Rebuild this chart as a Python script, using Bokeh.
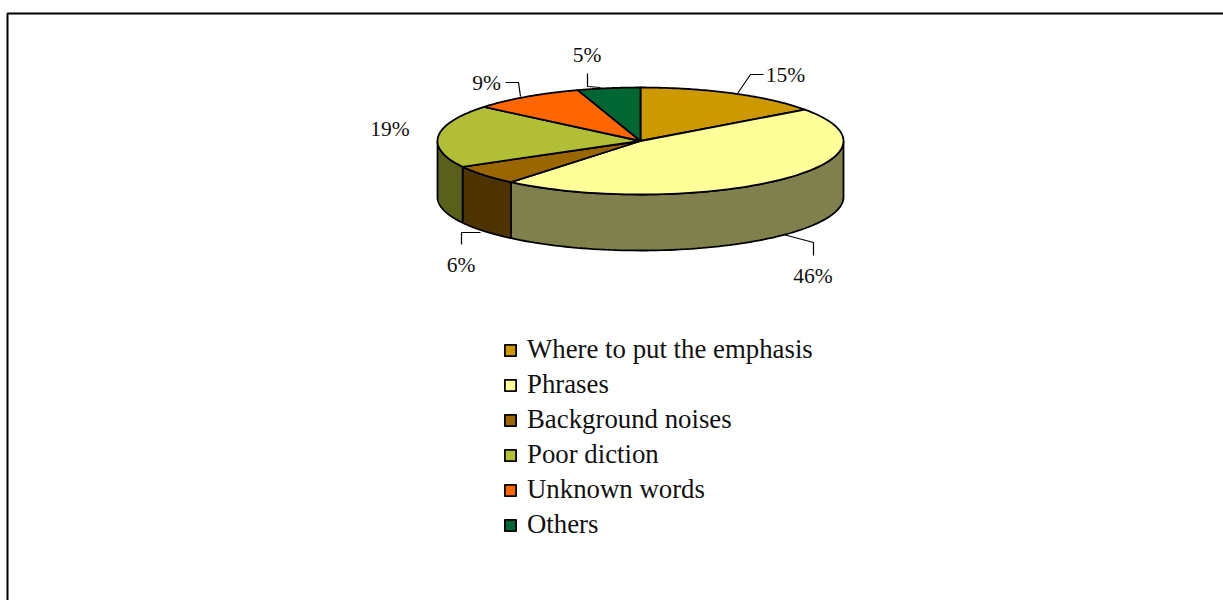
import numpy as np
from bokeh.plotting import figure
from bokeh.models import Range1d, Legend, LegendItem
from bokeh.core.properties import value
from bokeh.embed import file_html
from bokeh.resources import INLINE

categories = ["Where to put the emphasis", "Phrases", "Background noises",
              "Poor diction", "Unknown words", "Others"]
shares = [15, 46, 6, 19, 9, 5]
labels = ["15%", "46%", "6%", "19%", "9%", "5%"]
top_colors = ["#CC9900", "#FFFF99", "#996600", "#B2BF36", "#FF6600", "#006633"]
side_colors = ["#665000", "#80804D", "#4D3300", "#59601B", "#803300", "#003319"]

CX, CY, RX, RY, DEPTH = 640.0, 140.5, 203.0, 53.5, 56.0
FONT = "Liberation Serif"


def rim(a):
    return CX + RX * np.sin(a), CY - RY * np.cos(a)


p = figure(width=1223, height=600, output_backend="svg", toolbar_location=None,
           x_range=Range1d(0, 1223), y_range=Range1d(600, 0),
           min_border=0, outline_line_color=None, background_fill_color="white")
p.axis.visible = False
p.grid.visible = False

# outer frame: only the left and top edges show
p.line([7, 7, 1223], [600, 13, 13], line_color="black", line_width=2)

edges = np.radians(np.concatenate([[0], np.cumsum(shares)]) * 3.6)
LW = 1.8

# side walls of the visible front half
for i in range(len(shares)):
    a0, a1 = max(edges[i], np.pi / 2), min(edges[i + 1], 3 * np.pi / 2)
    if a1 <= a0:
        continue
    t = np.linspace(a0, a1, 80)
    x, y = rim(t)
    p.patch(np.r_[x, x[::-1]], np.r_[y, y[::-1] + DEPTH],
            fill_color=side_colors[i], line_color="black", line_width=LW)

# top face
items = []
for i, name in enumerate(categories):
    t = np.linspace(edges[i], edges[i + 1], 80)
    x, y = rim(t)
    r = p.patch(np.r_[CX, x], np.r_[CY, y], fill_color=top_colors[i],
                line_color="black", line_width=LW, line_join="round")
    items.append(LegendItem(label=name, renderers=[r]))

# leader lines
leader_x = [[737, 750, 763], [783, 813, 813], [480, 461, 461],
            [520, 518, 505], [600, 587, 587]]
leader_y = [[93, 74, 74], [234, 242, 255], [232, 232, 244],
            [96, 82, 82], [87, 86, 73]]
p.multi_line(leader_x, leader_y, line_color="black", line_width=1.2)

# data labels
label_x = [785, 812.5, 460.5, 389.5, 486, 586.5]
label_y = [74, 275, 264, 128, 82, 54]
p.text(x=label_x, y=label_y, text=labels, text_font=value(FONT),
       text_font_size="21.5px", text_align="center", text_baseline="middle",
       text_color="#111111")

legend = Legend(items=items, location=(503, 60), orientation="vertical",
                glyph_width=14, glyph_height=14, label_standoff=10,
                label_height=28, spacing=4, padding=0, margin=0,
                border_line_color=None, background_fill_alpha=0,
                label_text_font=FONT, label_text_font_size="26.8px",
                label_text_color="#111111", label_text_baseline="middle")
p.add_layout(legend, "center")

open("out.html", "w").write(file_html(p, INLINE))
